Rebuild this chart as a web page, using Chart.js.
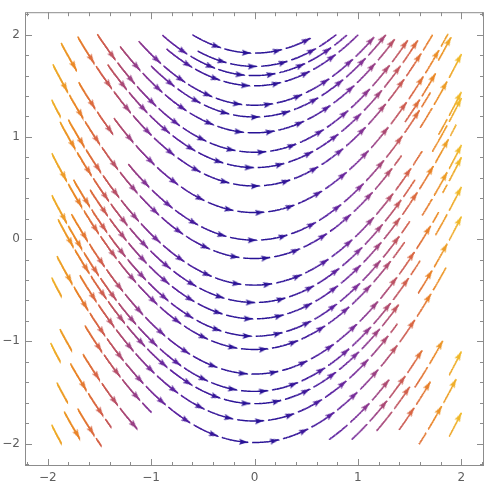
<!DOCTYPE html>
<html>
<head>
<meta charset="utf-8">
<script src="https://cdn.jsdelivr.net/npm/chart.js@4.4.1/dist/chart.umd.min.js"></script>
<style>
  html, body { margin: 0; padding: 0; background: #fff; }
  #wrap { width: 503px; height: 493px; }
</style>
</head>
<body>
<div id="wrap"><canvas id="streamChart"></canvas></div>
<script>
// stream plot of the field (1, x); every streamline is y = x^2/2 + c.
// Streamline runs: constant c, first x and last x of the run.
const chainC    = [1.82, 1.69, 1.60, 1.50, 1.31, 1.195, 1.04, 0.85, 0.70, 0.52, 0.26, -0.01,
                   -0.19, -0.19, -0.45, -0.62, -0.62, -0.78, -0.95, -1.08, -1.08, -1.32, -1.49, -1.49,
                   -1.61, -1.78, -1.78, -1.99,
                   0.171, 0.09, -0.56,
                   -2.19, -2.30, -2.50, -2.65, -2.80, -2.96, -3.12, -3.23, -3.38, -3.74,
                   0.171, 0.09, -0.56, -1.20,
                   -2.22, -2.40, -2.57, -2.65, -2.84, -3.10, -3.27, -3.70];
const chainFrom = [-0.60, -0.55, -0.89, -0.85, -1.12, -1.00, -1.30, -1.52, -1.42, -1.71, -1.36, -1.22,
                   -1.95, 1.60, -1.80, -1.88, 1.72, -1.59, -1.75, -1.96, 1.62, -1.77, -1.96, 1.75,
                   -1.90, -1.69, 1.55, -1.91,
                   -1.87, -1.70, -1.98,
                   -1.64, -1.98, -1.66, -1.90, -1.78, -1.99, -1.71, -1.93, -1.84, -1.98,
                   1.72, 1.42, 1.78, 1.82,
                   0.72, 0.94, 1.18, 1.55, 1.33, 1.86, 1.59, 1.86];
const chainTo   = [0.60, 0.79, 0.89, 1.00, 1.17, 1.27, 1.39, 1.52, 1.61, 1.72, 1.87, 1.70,
                   1.42, 2.00, 1.62, 1.55, 2.00, 1.95, 1.50, 1.45, 2.00, 1.78, 1.60, 2.00,
                   1.40, 1.38, 2.00, 1.85,
                   -1.70, -1.37, -1.88,
                   -1.00, -1.87, -1.09, -1.77, -1.39, -1.88, -1.48, -1.81, -1.69, -1.87,
                   1.90, 1.75, 2.00, 2.00,
                   1.30, 1.62, 1.50, 1.82, 1.70, 2.00, 1.95, 2.00];

const majorTicks = [-2, -1, 0, 1, 2];
const minorTicks = [-2.2, -1.8, -1.6, -1.4, -1.2, -0.8, -0.6, -0.4, -0.2, 0.2, 0.4, 0.6, 0.8, 1.2, 1.4, 1.6, 1.8, 2.2];
const AXIS_MIN = -2.22;
const AXIS_MAX = 2.22;
const FIELD_MIN = -2.02;   // streamlines are only drawn inside the sampled square
const FIELD_MAX = 2.02;

const PIECE_LEN = 0.3;   // arc length from one arrowhead to the next
const GAP = 0.04;        // blank after each arrowhead
const MIN_DASH = 0.08;
const STEP = 0.004;
const FRAME_COLOR = '#8c8c8c';
const LABEL_COLOR = '#5e5e5e';

const colorStops = [
    [0.00, [40, 18, 150]],
    [0.20, [88, 32, 160]],
    [0.35, [128, 50, 152]],
    [0.50, [172, 74, 116]],
    [0.65, [214, 98, 72]],
    [0.80, [234, 132, 38]],
    [1.00, [240, 186, 42]]
];

function speedT(x) {
    const s = Math.sqrt(1 + x * x);
    return Math.min(1, Math.max(0, (s - 1) / (Math.sqrt(5) - 1)));
}

function colorAt(x) {
    const t = speedT(x);
    for (let i = 1; i < colorStops.length; i++) {
        if (t <= colorStops[i][0]) {
            const [t0, c0] = colorStops[i - 1];
            const [t1, c1] = colorStops[i];
            const f = (t - t0) / (t1 - t0);
            const c = c0.map((v, k) => Math.round(v + (c1[k] - v) * f));
            return 'rgb(' + c.join(',') + ')';
        }
    }
    return 'rgb(' + colorStops[colorStops.length - 1][1].join(',') + ')';
}

function inField(x, y) {
    return x >= FIELD_MIN && x <= FIELD_MAX && y >= FIELD_MIN && y <= FIELD_MAX;
}

// cut every run into arrow pieces; runs seeded on the left count from their start,
// runs seeded on the right count back from their end
const streamPts = [];
const tipPts = [];
chainC.forEach(function(c, i) {
    const yAt = x => c + x * x / 2;
    const xs = [], ss = [];
    let x = chainFrom[i], s = 0;
    while (true) {
        if (inField(x, yAt(x))) { xs.push(x); ss.push(s); s += STEP; }
        if (x >= chainTo[i]) break;
        x = Math.min(chainTo[i], x + STEP / Math.sqrt(1 + x * x));
    }
    if (xs.length < 2) return;
    const total = ss[ss.length - 1];
    function addPiece(sa, sb, arrow) {
        const pts = [];
        for (let k = 0; k < xs.length; k++) {
            if (ss[k] >= sa - 1e-9 && ss[k] <= sb + 1e-9) pts.push({ x: xs[k], y: yAt(xs[k]) });
        }
        if (pts.length < 2) return;
        streamPts.push(...pts, { x: pts[pts.length - 1].x, y: null });
        const last = pts[pts.length - 1];
        if (arrow) tipPts.push({ x: last.x, y: last.y });
    }
    const n = Math.floor(total / PIECE_LEN + 1e-9);
    const rest = total - n * PIECE_LEN;
    const offset = chainFrom[i] < 0 ? 0 : rest;
    for (let k = 0; k < n; k++) {
        addPiece(offset + k * PIECE_LEN + (k > 0 || offset > 0 ? GAP : 0), offset + (k + 1) * PIECE_LEN, true);
    }
    if (rest > MIN_DASH) {
        if (offset > 0) addPiece(0, rest, false);
        else addPiece(n * PIECE_LEN + GAP, total, false);
    }
});

const headCache = {};
function headCanvas(color) {
    if (headCache[color]) return headCache[color];
    const len = 9, hw = 3.0;
    const c = document.createElement('canvas');
    c.width = 2 * len + 2;
    c.height = 2 * Math.ceil(hw) + 2;
    const g = c.getContext('2d');
    const cx = c.width / 2, cy = c.height / 2;
    g.fillStyle = color;
    g.beginPath();
    g.moveTo(cx, cy);
    g.lineTo(cx - len, cy - hw);
    g.lineTo(cx - len + 1.5, cy);
    g.lineTo(cx - len, cy + hw);
    g.closePath();
    g.fill();
    headCache[color] = c;
    return c;
}

const framePlugin = {
    id: 'frame',
    afterDatasetsDraw(chart) {
        const { ctx, chartArea: a, scales } = chart;
        const xs = scales.x, ys = scales.y;
        ctx.save();
        ctx.strokeStyle = FRAME_COLOR;
        ctx.lineWidth = 1;
        ctx.strokeRect(a.left + 0.5, a.top + 0.5, a.right - a.left - 1, a.bottom - a.top - 1);
        ctx.beginPath();
        function xTick(v, len) {
            const p = Math.round(xs.getPixelForValue(v)) + 0.5;
            ctx.moveTo(p, a.bottom); ctx.lineTo(p, a.bottom - len);
            ctx.moveTo(p, a.top); ctx.lineTo(p, a.top + len);
        }
        function yTick(v, len) {
            const p = Math.round(ys.getPixelForValue(v)) + 0.5;
            ctx.moveTo(a.left, p); ctx.lineTo(a.left + len, p);
            ctx.moveTo(a.right, p); ctx.lineTo(a.right - len, p);
        }
        majorTicks.forEach(v => { xTick(v, 7); yTick(v, 7); });
        minorTicks.forEach(v => { xTick(v, 4); yTick(v, 4); });
        ctx.stroke();
        ctx.restore();
    }
};

function axisOptions(isX) {
    return {
        type: 'linear',
        min: AXIS_MIN,
        max: AXIS_MAX,
        afterBuildTicks: function(scale) {
            scale.ticks = majorTicks.map(v => ({ value: v }));
        },
        afterFit: function(scale) {
            if (isX) scale.height = 27; else scale.width = 25;
        },
        ticks: {
            color: LABEL_COLOR,
            padding: 5,
            font: { family: 'DejaVu Sans', size: 12 },
            callback: v => String(v).replace('-', '\u2212')
        },
        grid: { display: false, drawTicks: false },
        border: { display: false }
    };
}

new Chart(document.getElementById('streamChart'), {
    type: 'scatter',
    data: {
        datasets: [{
            label: 'streams',
            data: streamPts,
            showLine: true,
            spanGaps: false,
            pointRadius: 0,
            borderWidth: 1.4,
            borderColor: colorAt(0),
            segment: {
                borderColor: ctx => colorAt((streamPts[ctx.p0DataIndex].x + streamPts[ctx.p1DataIndex].x) / 2)
            }
        }, {
            label: 'heads',
            data: tipPts,
            pointRadius: 4,
            pointStyle: ctx => headCanvas(colorAt(tipPts[ctx.dataIndex].x)),
            rotation: ctx => {
                const chart = ctx.chart;
                const kx = chart.scales.x.getPixelForValue(1) - chart.scales.x.getPixelForValue(0);
                const ky = chart.scales.y.getPixelForValue(0) - chart.scales.y.getPixelForValue(1);
                return Math.atan2(-tipPts[ctx.dataIndex].x * ky, kx) * 180 / Math.PI;
            }
        }]
    },
    options: {
        responsive: true,
        maintainAspectRatio: false,
        animation: false,
        layout: { padding: { top: 8, right: 19, left: 0, bottom: 0 } },
        plugins: {
            legend: { display: false },
            tooltip: { enabled: false }
        },
        scales: {
            x: axisOptions(true),
            y: axisOptions(false)
        }
    },
    plugins: [framePlugin]
});
</script>
</body>
</html>
